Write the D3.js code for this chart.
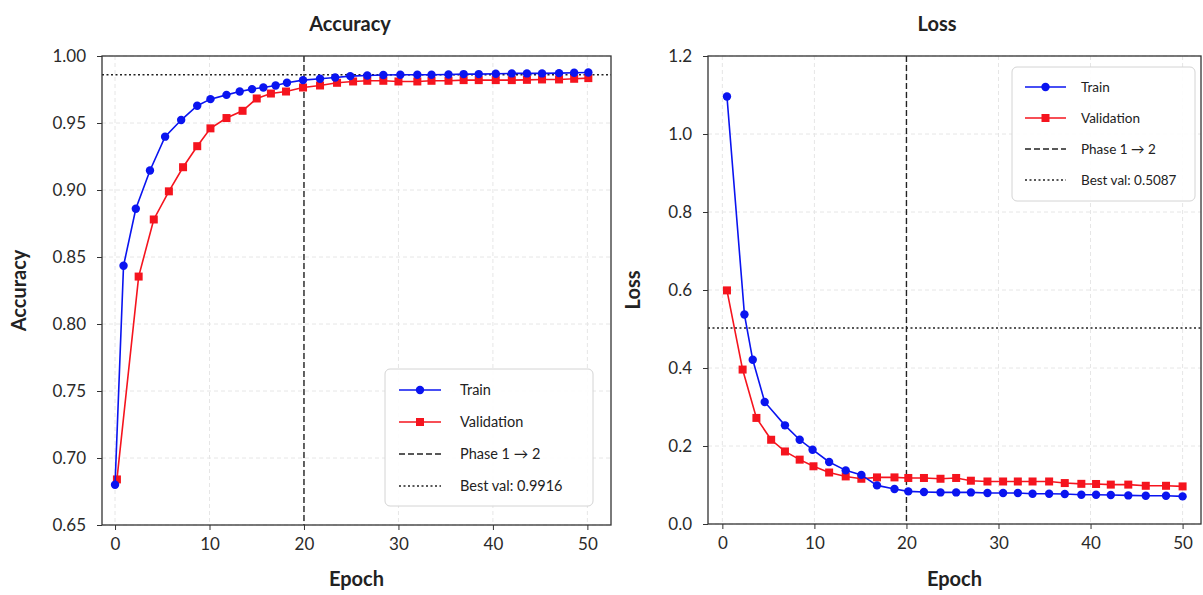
<!DOCTYPE html>
<html>
<head>
<meta charset="utf-8">
<script src="https://cdn.jsdelivr.net/npm/d3@7"></script>
<style>
  body { margin: 0; background: #fff; }
  svg { font-family: Lato, "Open Sans", sans-serif; }
</style>
</head>
<body>
<svg width="1203" height="595"></svg>
<script>
// accuracy data
var accTrainEpoch = [0.0, 0.9, 2.2, 3.7, 5.3, 7.0, 8.7, 10.1, 11.8, 13.2, 14.5, 15.7, 17.0, 18.2, 19.9, 21.7, 23.3, 24.9, 26.7, 28.4, 30.2, 32.0, 33.5, 35.3, 36.9, 38.5, 40.3, 42.0, 43.6, 45.2, 47.0, 48.6, 50.1]
var accTrain = [0.680, 0.8435, 0.886, 0.9146, 0.9398, 0.9522, 0.9629, 0.9678, 0.971, 0.9735, 0.9753, 0.9765, 0.978, 0.980, 0.982, 0.983, 0.984, 0.985, 0.9855, 0.9858, 0.986, 0.986, 0.986, 0.9862, 0.9865, 0.9865, 0.9867, 0.987, 0.987, 0.987, 0.9872, 0.9875, 0.9877]
var accValEpoch = [0.2, 2.5, 4.1, 5.7, 7.2, 8.7, 10.1, 11.8, 13.5, 15.0, 16.5, 18.1, 19.9, 21.7, 23.5, 25.2, 26.7, 28.4, 30.0, 32.0, 33.5, 35.3, 36.9, 38.5, 40.3, 42.0, 43.6, 45.2, 47.0, 48.6, 50.1]
var accVal = [0.684, 0.8354, 0.878, 0.899, 0.917, 0.9327, 0.946, 0.9537, 0.9591, 0.9683, 0.972, 0.9735, 0.9765, 0.978, 0.980, 0.981, 0.9815, 0.9815, 0.981, 0.981, 0.9815, 0.9815, 0.982, 0.982, 0.982, 0.982, 0.9822, 0.9825, 0.9825, 0.983, 0.9835]
var accBestLine = 0.986
var accBestLabel = 'Best val: 0.9916'

// loss data
var lossTrainEpoch = [0.5, 2.4, 3.3, 4.6, 6.8, 8.4, 9.8, 11.6, 13.4, 15.1, 16.8, 18.7, 20.2, 21.9, 23.7, 25.4, 27.0, 28.8, 30.5, 32.1, 33.7, 35.5, 37.2, 39.0, 40.6, 42.2, 44.1, 46.0, 48.2, 50.0]
var lossTrain = [1.096, 0.537, 0.421, 0.313, 0.253, 0.216, 0.1905, 0.159, 0.1375, 0.126, 0.099, 0.0897, 0.0836, 0.082, 0.081, 0.081, 0.081, 0.0795, 0.0795, 0.0795, 0.0777, 0.0777, 0.0769, 0.0751, 0.0751, 0.0744, 0.0733, 0.0726, 0.0726, 0.0708]
var lossValEpoch = [0.5, 2.2, 3.7, 5.3, 6.8, 8.4, 9.9, 11.6, 13.4, 15.1, 16.8, 18.7, 20.2, 21.9, 23.7, 25.4, 27.0, 28.8, 30.5, 32.1, 33.7, 35.5, 37.2, 39.0, 40.6, 42.2, 44.1, 46.0, 48.2, 50.0]
var lossVal = [0.599, 0.396, 0.272, 0.216, 0.186, 0.165, 0.148, 0.132, 0.122, 0.116, 0.1195, 0.1195, 0.118, 0.118, 0.116, 0.118, 0.111, 0.109, 0.109, 0.109, 0.109, 0.109, 0.105, 0.103, 0.1026, 0.101, 0.101, 0.098, 0.098, 0.0964]
var lossBestLine = 0.5026
var lossBestLabel = 'Best val: 0.5087'

var phaseEpoch = 20
var xTicks = [0, 10, 20, 30, 40, 50]
var accTicks = [0.65, 0.70, 0.75, 0.80, 0.85, 0.90, 0.95, 1.00]
var lossTicks = [0.0, 0.2, 0.4, 0.6, 0.8, 1.0, 1.2]

var svg = d3.select('svg')
var BLUE = '#0a14f0', RED = '#f5141e'

function panel(o) {
    var g = svg.append('g')
    var x = d3.scaleLinear().domain(o.xDomain).range([o.left, o.right])
    var y = d3.scaleLinear().domain(o.yDomain).range([o.bottom, o.top])

    // grid
    g.append('g').selectAll('line').data(xTicks).enter().append('line')
        .attr('x1', d => x(d)).attr('x2', d => x(d))
        .attr('y1', o.top).attr('y2', o.bottom)
        .attr('stroke', '#e6e6e6').attr('stroke-dasharray', '4,3')
    g.append('g').selectAll('line').data(o.yTicks).enter().append('line')
        .attr('y1', d => y(d)).attr('y2', d => y(d))
        .attr('x1', o.left).attr('x2', o.right)
        .attr('stroke', '#e6e6e6').attr('stroke-dasharray', '4,3')

    // reference lines
    g.append('line')
        .attr('x1', x(phaseEpoch)).attr('x2', x(phaseEpoch))
        .attr('y1', o.top).attr('y2', o.bottom)
        .attr('stroke', '#222').attr('stroke-width', 1.4).attr('stroke-dasharray', '6,3')
    g.append('line')
        .attr('x1', o.left).attr('x2', o.right)
        .attr('y1', y(o.best)).attr('y2', y(o.best))
        .attr('stroke', '#222').attr('stroke-width', 1.4).attr('stroke-dasharray', '2,2.5')

    var line = d3.line().x(d => x(d[0])).y(d => y(d[1]))
    var train = o.trainX.map((v, i) => [v, o.train[i]])
    var val = o.valX.map((v, i) => [v, o.val[i]])

    g.append('path').attr('d', line(val)).attr('fill', 'none')
        .attr('stroke', RED).attr('stroke-width', 1.6)
    g.append('g').selectAll('rect').data(val).enter().append('rect')
        .attr('x', d => x(d[0]) - 4).attr('y', d => y(d[1]) - 4)
        .attr('width', 8).attr('height', 8).attr('fill', RED)
    g.append('path').attr('d', line(train)).attr('fill', 'none')
        .attr('stroke', BLUE).attr('stroke-width', 1.6)
    g.append('g').selectAll('circle').data(train).enter().append('circle')
        .attr('cx', d => x(d[0])).attr('cy', d => y(d[1]))
        .attr('r', 4.2).attr('fill', BLUE)

    // frame
    g.append('rect').attr('x', o.left).attr('y', o.top)
        .attr('width', o.right - o.left).attr('height', o.bottom - o.top)
        .attr('fill', 'none').attr('stroke', '#333').attr('stroke-width', 1.3)

    // axes
    var xa = g.append('g').attr('transform', 'translate(0,' + o.bottom + ')')
        .call(d3.axisBottom(x).tickValues(xTicks).tickSize(5).tickPadding(8))
    var ya = g.append('g').attr('transform', 'translate(' + o.left + ',0)')
        .call(d3.axisLeft(y).tickValues(o.yTicks).tickSize(5).tickPadding(11).tickFormat(d3.format(o.fmt)))
    ;[xa, ya].forEach(function (a) {
        a.select('.domain').remove()
        a.selectAll('line').attr('stroke', '#333')
        a.selectAll('text').attr('fill', '#2a2a2a').style('font-size', '17px')
            .style('font-family', 'Lato, sans-serif')
    })

    // titles
    g.append('text').attr('x', o.titleX).attr('y', 31)
        .attr('text-anchor', 'middle').style('font-size', '20px').style('font-weight', 'bold')
        .attr('fill', '#222').text(o.title)
    g.append('text').attr('x', (o.left + o.right) / 2).attr('y', 586)
        .attr('text-anchor', 'middle').style('font-size', '20px').style('font-weight', 'bold')
        .attr('fill', '#222').text('Epoch')
    g.append('text')
        .attr('transform', 'translate(' + o.ylabX + ',' + (o.top + o.bottom) / 2 + ') rotate(-90)')
        .attr('text-anchor', 'middle').style('font-size', '20px').style('font-weight', 'bold')
        .attr('fill', '#222').text(o.title)

    // legend
    var L = o.legend
    var lg = g.append('g').attr('transform', 'translate(' + L.x + ',' + L.y + ')')
    lg.append('rect').attr('width', L.w).attr('height', L.h).attr('rx', 5)
        .attr('fill', '#fff').attr('fill-opacity', 0.9).attr('stroke', '#d4d4d4')
    var items = [
        { label: 'Train', type: 'train' },
        { label: 'Validation', type: 'val' },
        { label: 'Phase 1 \u2192 2', type: 'dash' },
        { label: o.bestLabel, type: 'dot' }
    ]
    items.forEach(function (it, i) {
        var cy = L.pad + i * L.step
        var ln = lg.append('line').attr('x1', L.lx).attr('x2', L.lx + L.lw)
            .attr('y1', cy).attr('y2', cy)
        if (it.type === 'train') {
            ln.attr('stroke', BLUE).attr('stroke-width', 1.6)
            lg.append('circle').attr('cx', L.lx + L.lw / 2).attr('cy', cy).attr('r', 4.2).attr('fill', BLUE)
        } else if (it.type === 'val') {
            ln.attr('stroke', RED).attr('stroke-width', 1.6)
            lg.append('rect').attr('x', L.lx + L.lw / 2 - 4).attr('y', cy - 4)
                .attr('width', 8).attr('height', 8).attr('fill', RED)
        } else if (it.type === 'dash') {
            ln.attr('stroke', '#222').attr('stroke-width', 1.4).attr('stroke-dasharray', '6,3')
        } else {
            ln.attr('stroke', '#222').attr('stroke-width', 1.4).attr('stroke-dasharray', '2,2.5')
        }
        lg.append('text').attr('x', L.tx).attr('y', cy).attr('dy', '0.35em')
            .style('font-size', L.fs + 'px').attr('fill', '#222').text(it.label)
    })
}

panel({
    title: 'Accuracy', titleX: 350, left: 102, right: 611, top: 56, bottom: 525,
    xDomain: [-1.38, 52.5], yDomain: [0.65, 1.0], yTicks: accTicks, fmt: '.2f',
    trainX: accTrainEpoch, train: accTrain, valX: accValEpoch, val: accVal,
    best: accBestLine, bestLabel: accBestLabel, ylabX: 26,
    legend: { x: 385, y: 369, w: 208, h: 137, pad: 21, step: 32, lx: 14, lw: 42, tx: 75, fs: 14.5 }
})

panel({
    title: 'Loss', titleX: 937, left: 708, right: 1201, top: 56, bottom: 524,
    xDomain: [-1.56, 52.0], yDomain: [0, 1.2], yTicks: lossTicks, fmt: '.1f',
    trainX: lossTrainEpoch, train: lossTrain, valX: lossValEpoch, val: lossVal,
    best: lossBestLine, bestLabel: lossBestLabel, ylabX: 640,
    legend: { x: 1012, y: 67, w: 183, h: 134, pad: 20, step: 31, lx: 13, lw: 41, tx: 69, fs: 13.5 }
})
</script>
</body>
</html>
